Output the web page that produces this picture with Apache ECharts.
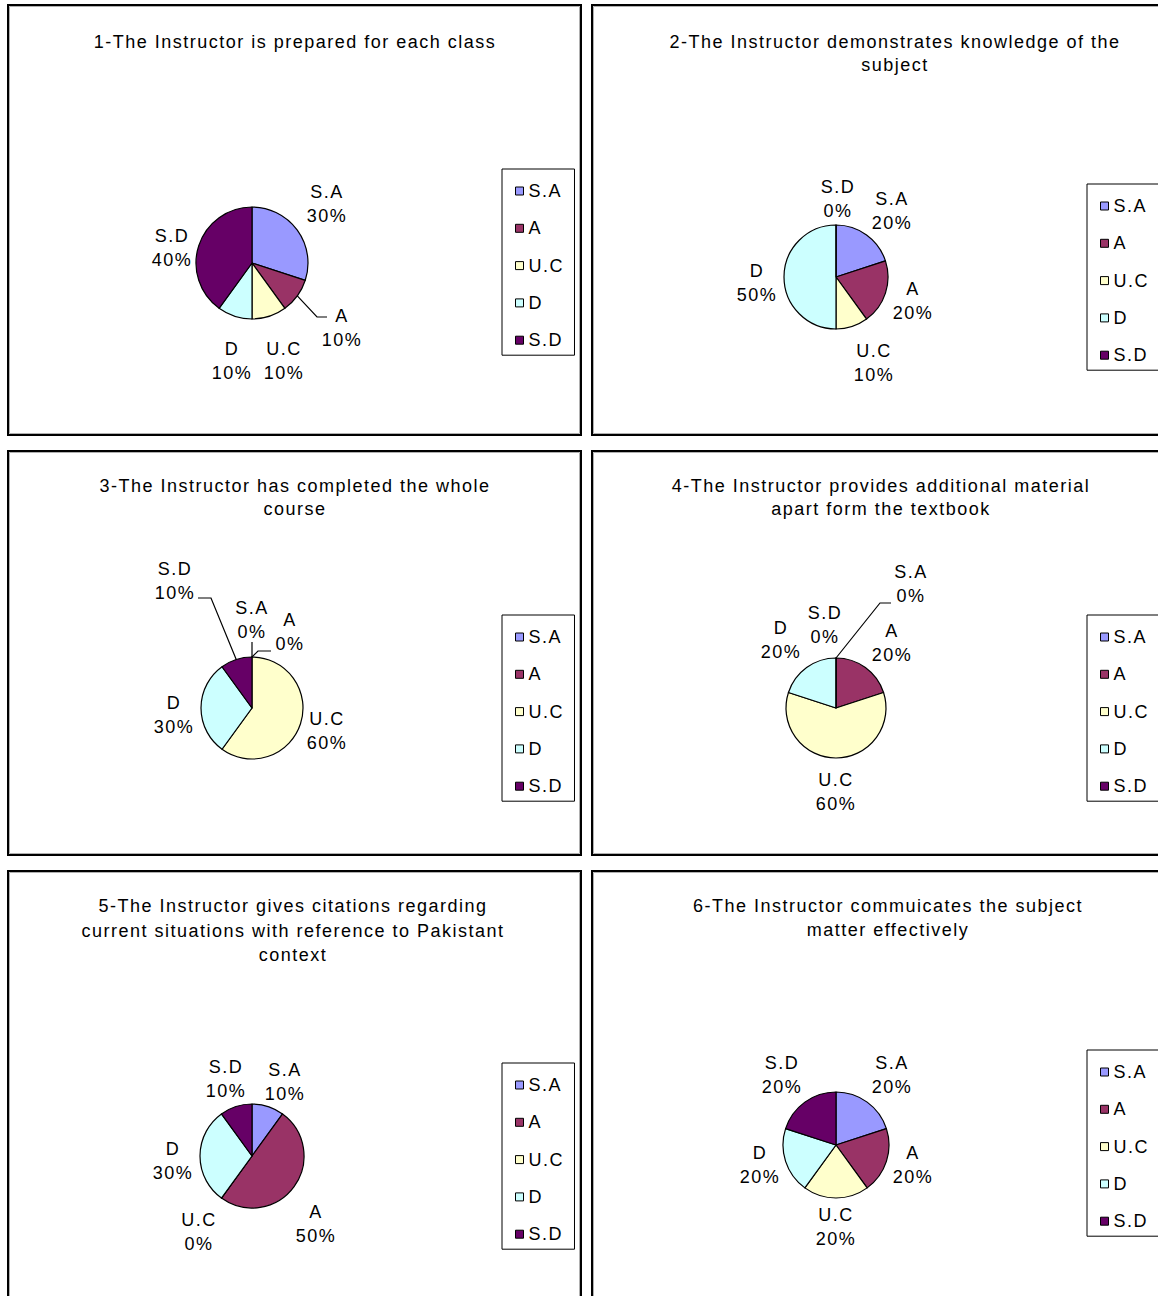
<!DOCTYPE html>
<html>
<head>
<meta charset="utf-8">
<script src="https://cdn.jsdelivr.net/npm/echarts@6/dist/echarts.min.js"></script>
<style>
  html, body { margin: 0; padding: 0; background: #ffffff; }
  #chart { width: 1158px; height: 1296px; }
  /* loose letter spacing of the original typeface */
  #chart svg text { letter-spacing: 1.5px; }
</style>
</head>
<body>
<div id="chart"></div>
<script>
// Response categories (strongly agree ... strongly disagree)
const CATEGORIES = ['S.A', 'A', 'U.C', 'D', 'S.D'];

// Survey statements
const QUESTIONS = [
  '1-The Instructor is prepared for each class',
  '2-The Instructor demonstrates knowledge of the\nsubject',
  '3-The Instructor has completed the whole\ncourse',
  '4-The Instructor provides additional material\napart form the textbook',
  '5-The Instructor gives citations regarding\ncurrent situations with reference to Pakistant\ncontext',
  '6-The Instructor commuicates the subject\nmatter effectively'
];

// Percentage of responses per category, in CATEGORIES order
const PREPARED     = [30, 10, 10, 10, 40];
const KNOWLEDGE    = [20, 20, 10, 50, 0];
const COMPLETED    = [0, 0, 60, 30, 10];
const MATERIAL     = [0, 20, 60, 20, 0];
const CITATIONS    = [10, 50, 0, 30, 10];
const COMMUNICATES = [20, 20, 20, 20, 20];

const SHARES = [PREPARED, KNOWLEDGE, COMPLETED, MATERIAL, CITATIONS, COMMUNICATES];

const SLICE_COLORS = ['#9999FF', '#993366', '#FFFFCC', '#CCFFFF', '#660066'];
const FONT = '"Liberation Sans", Arial, Helvetica, sans-serif';

// Layout of each panel: frame box, title anchor, pie geometry, legend box,
// label offsets from the pie centre and leader-line bends for crowded labels.
const PANELS = [
  { frame: [7, 4, 582, 436], title: { x: 295, y: 30.5, lh: 23 },
    pie: { cx: 252, cy: 263, r: 56 }, legend: { x: 502, y: 169 },
    labels: [[75, -59], [90, 65], [32, 98], [-20, 98], [-80, -15]],
    leaders: { 1: [[65, 54], [75, 54]] } },
  { frame: [591, 4, 1200, 436], title: { x: 895, y: 30.5, lh: 23 },
    pie: { cx: 836, cy: 277, r: 52 }, legend: { x: 1087, y: 184 },
    labels: [[56, -66], [77, 24], [38, 86], [-79, 6], [2, -78]],
    leaders: {} },
  { frame: [7, 450, 582, 856], title: { x: 295, y: 474.5, lh: 23 },
    pie: { cx: 252, cy: 708, r: 51 }, legend: { x: 502, y: 615 },
    labels: [[0, -88], [38, -76], [75, 23], [-78, 7], [-77, -127]],
    leaders: { 0: [[0, -59], [0, -66]], 1: [[6, -57], [19, -57]], 4: [[-41, -110], [-54, -110]] } },
  { frame: [591, 450, 1200, 856], title: { x: 881, y: 474.5, lh: 23 },
    pie: { cx: 836, cy: 708, r: 50 }, legend: { x: 1087, y: 615 },
    labels: [[75, -124], [56, -65], [0, 84], [-55, -68], [-11, -83]],
    leaders: { 0: [[44, -105], [55, -105]] } },
  { frame: [7, 870, 582, 1310], title: { x: 293, y: 893.75, lh: 24.5 },
    pie: { cx: 252, cy: 1156, r: 52 }, legend: { x: 502, y: 1063 },
    labels: [[33, -74], [64, 68], [-53, 76], [-79, 5], [-26, -77]],
    leaders: {} },
  { frame: [591, 870, 1200, 1310], title: { x: 888, y: 894, lh: 24 },
    pie: { cx: 836, cy: 1145, r: 53 }, legend: { x: 1087, y: 1050 },
    labels: [[56, -70], [77, 20], [0, 82], [-76, 20], [-54, -70]],
    leaders: {} }
];

// Mid angle of a slice, clockwise from 12 o'clock, in radians
function midAngle(values, index) {
  const total = values.reduce((a, b) => a + b, 0);
  let before = 0;
  for (let i = 0; i < index; i++) before += values[i];
  return ((before + values[index] / 2) / total) * Math.PI * 2;
}

const graphics = [];
PANELS.forEach(function (p) {
  const f = p.frame;
  graphics.push({
    type: 'rect', z: 0, silent: true,
    shape: { x: f[0] + 1, y: f[1] + 1, width: f[2] - f[0] - 2, height: f[3] - f[1] - 2 },
    style: { fill: 'none', stroke: '#000000', lineWidth: 2 }
  });
  graphics.push({
    type: 'rect', z: 0, silent: true,
    shape: { x: f[0] + 2.5, y: f[1] + 2.5, width: f[2] - f[0] - 5, height: f[3] - f[1] - 5 },
    style: { fill: 'none', stroke: '#b0b0b0', lineWidth: 1 }
  });
});

const titles = PANELS.map(function (p, k) {
  return {
    text: QUESTIONS[k],
    left: p.title.x,
    top: p.title.y,
    textAlign: 'center',
    padding: 0,
    textStyle: {
      fontFamily: FONT, fontSize: 18, fontWeight: 'normal',
      color: '#000000', lineHeight: p.title.lh
    }
  };
});

const legends = PANELS.map(function (p) {
  return {
    data: CATEGORIES,
    orient: 'vertical',
    left: p.legend.x,
    top: p.legend.y,
    icon: 'rect',
    itemWidth: 8,
    itemHeight: 8,
    itemGap: 19.3,
    padding: [13, 15, 6, 13],
    borderColor: '#000000',
    borderWidth: 1,
    backgroundColor: '#ffffff',
    selectedMode: false,
    itemStyle: { borderColor: '#000000', borderWidth: 1 },
    textStyle: { fontFamily: FONT, fontSize: 18, color: '#000000', lineHeight: 18 }
  };
});

const series = PANELS.map(function (p, k) {
  const values = SHARES[k];
  return {
    type: 'pie',
    center: [p.pie.cx, p.pie.cy],
    radius: p.pie.r,
    startAngle: 90,
    clockwise: true,
    avoidLabelOverlap: false,
    animation: false,
    silent: true,
    emphasis: { disabled: true },
    itemStyle: { borderColor: '#000000', borderWidth: 1.2 },
    label: {
      show: true,
      position: 'outside',
      fontFamily: FONT,
      fontSize: 18,
      lineHeight: 24,
      color: '#000000',
      formatter: function (d) { return d.name + '\n' + d.value + '%'; }
    },
    labelLine: { show: false, lineStyle: { color: '#000000', width: 1.2 } },
    labelLayout: function (params) {
      const pan = PANELS[params.seriesIndex];
      const pie = pan.pie;
      const off = pan.labels[params.dataIndex];
      const out = {
        x: pie.cx + off[0],
        y: pie.cy + off[1],
        align: 'center',
        verticalAlign: 'middle'
      };
      const lead = pan.leaders[params.dataIndex];
      if (lead) {
        const a = midAngle(SHARES[params.seriesIndex], params.dataIndex);
        const start = [pie.cx + pie.r * Math.sin(a), pie.cy - pie.r * Math.cos(a)];
        out.labelLinePoints = [start].concat(lead.map(function (q) {
          return [pie.cx + q[0], pie.cy + q[1]];
        }));
      }
      return out;
    },
    data: values.map(function (v, i) {
      return {
        name: CATEGORIES[i],
        value: v,
        itemStyle: { color: SLICE_COLORS[i] },
        labelLine: { show: !!p.leaders[i] }
      };
    })
  };
});

const chart = echarts.init(document.getElementById('chart'), null, { renderer: 'svg' });
chart.setOption({
  animation: false,
  backgroundColor: '#ffffff',
  color: SLICE_COLORS,
  title: titles,
  legend: legends,
  graphic: graphics,
  series: series
});
</script>
</body>
</html>
